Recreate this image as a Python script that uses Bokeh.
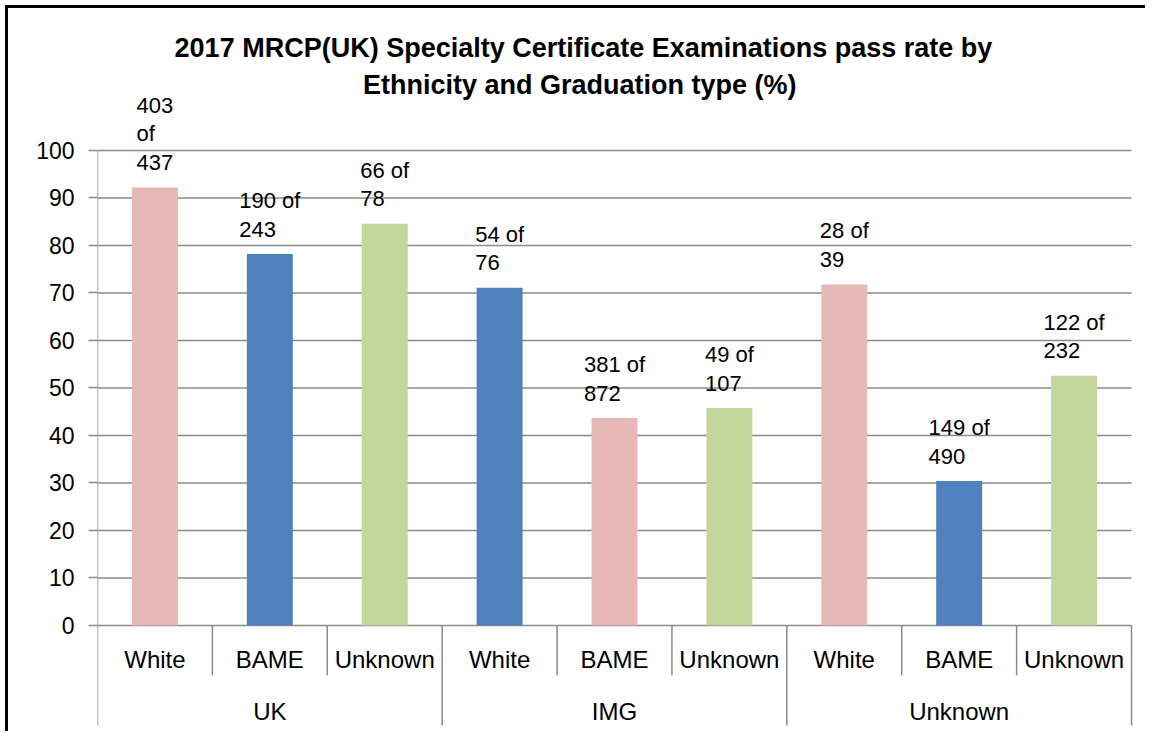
from bokeh.plotting import figure
from bokeh.models import ColumnDataSource, Range1d, FixedTicker, Label
from bokeh.core.properties import value
from bokeh.embed import file_html
from bokeh.resources import INLINE

# ---- data ----
graduation = ["UK", "IMG", "Unknown"]
ethnicity = ["White", "BAME", "Unknown"]
pass_rate = [92.2, 78.2, 84.6, 71.1, 43.7, 45.8, 71.8, 30.4, 52.6]
passed = [403, 190, 66, 54, 381, 49, 28, 149, 122]
sat = [437, 243, 78, 76, 872, 107, 39, 490, 232]
y_ticks = [0, 10, 20, 30, 40, 50, 60, 70, 80, 90, 100]

bar_colors = ["#E6B9B8", "#4F81BD", "#C3D69B", "#4F81BD", "#E6B9B8",
              "#C3D69B", "#E6B9B8", "#4F81BD", "#C3D69B"]

FONT = "Liberation Sans"
GRID = "#8a8a8a"
n_eth = len(ethnicity)
n_bars = len(pass_rate)

x = [i + 0.5 for i in range(n_bars)]
cat_labels = [ethnicity[i % n_eth] for i in range(n_bars)]

labels = []
for i, (a, b) in enumerate(zip(passed, sat)):
    if i == 0:
        labels.append(f"{a}\nof\n{b}")
    else:
        labels.append(f"{a} of\n{b}")

# approximate width of first line (Liberation Sans metrics) to centre a left-aligned block
cw = {"o": 0.556, "f": 0.278, " ": 0.278}
LFS = 22
def first_w(t):
    return sum(cw.get(c, 0.556) for c in t.split("\n")[0]) * LFS

src = ColumnDataSource(dict(
    x=x, top=pass_rate, color=bar_colors, label=labels,
    ly=[v + 2.6 for v in pass_rate],
    xoff=[-first_w(t) / 2 for t in labels],
    cat=cat_labels,
))

W, H = 1145, 731
LEFT = 97
x_end = n_bars * (W - LEFT) / 1034.0   # plot area keeps 1034 px for the 9 categories
p = figure(width=W, height=H, output_backend="svg", toolbar_location=None,
           x_range=Range1d(0, x_end), y_range=Range1d(-22.32, 131.58),
           min_border_left=LEFT, min_border_right=0, min_border_top=0,
           min_border_bottom=0)
# chart border on the left and top edges (page background behind a transparent canvas)
p.styles = {"background": "linear-gradient(black, black) 5px 5px / 3px 100% no-repeat, "
                          "linear-gradient(black, black) 5px 5px / 100% 3px no-repeat, white"}
p.outline_line_color = None
p.background_fill_color = None
p.border_fill_color = None

p.xaxis.visible = False
p.xgrid.visible = False
p.ygrid.visible = False

ya = p.yaxis[0]
ya.ticker = FixedTicker(ticks=y_ticks)
ya.axis_line_color = None
ya.major_tick_in = 0
ya.major_tick_out = 9
ya.major_tick_line_color = GRID
ya.major_tick_line_width = 1.5
ya.minor_tick_line_color = None
ya.major_label_text_font = FONT
ya.major_label_text_font_size = "23px"
ya.major_label_text_color = "black"
ya.major_label_standoff = 14

# horizontal gridlines across the category area
p.segment(x0=[0] * len(y_ticks), y0=y_ticks, x1=[n_bars] * len(y_ticks), y1=y_ticks,
          line_color=GRID, line_width=1.5)

# bars
p.vbar(x="x", top="top", bottom=0, width=0.4, fill_color="color",
       line_color=None, source=src)

# y axis line (0..100) and category separators
ngrp = len(graduation)
p.segment(x0=[0], y0=[0], x1=[0], y1=[100], line_color=GRID, line_width=1.5)
inner = [k for k in range(1, n_bars) if k % n_eth != 0]
outer = [k * n_eth for k in range(ngrp + 1)]
p.segment(x0=inner, y0=[0] * len(inner), x1=inner, y1=[-10.5] * len(inner),
          line_color=GRID, line_width=1.5)
p.segment(x0=outer, y0=[0] * len(outer), x1=outer, y1=[-21.05] * len(outer),
          line_color=GRID, line_width=1.5)

# white margin strip on the right of the chart area
p.quad(left=[n_bars + 0.03], right=[x_end + 1], bottom=[-30], top=[129.8],
       fill_color="white", line_color=None)

# data labels
p.text(x="x", y="ly", text="label", source=src, text_align="left",
       text_baseline="bottom", x_offset="xoff", text_font=value(FONT),
       text_font_size=f"{LFS}px", text_color="black", text_line_height=1.15)

# category labels
p.text(x="x", y=-7.2, text="cat", source=src, text_align="center",
       text_baseline="middle", text_font=value(FONT), text_font_size="24px",
       text_color="black")
gx = [k * n_eth + n_eth / 2 for k in range(ngrp)]
p.text(x=gx, y=[-18.1] * ngrp, text=graduation, text_align="center",
       text_baseline="middle", text_font=value(FONT), text_font_size="24px",
       text_color="black")

# title
for txt, ty in [("2017 MRCP(UK) Specialty Certificate Examinations pass rate by", 121.5),
                ("Ethnicity and Graduation type  (%)", 113.7)]:
    p.add_layout(Label(x=4.23, y=ty, text=txt, text_align="center",
                       text_baseline="middle", text_font=FONT,
                       text_font_size="27px", text_font_style="bold",
                       text_color="black"))

open("out.html", "w").write(file_html(p, INLINE))
